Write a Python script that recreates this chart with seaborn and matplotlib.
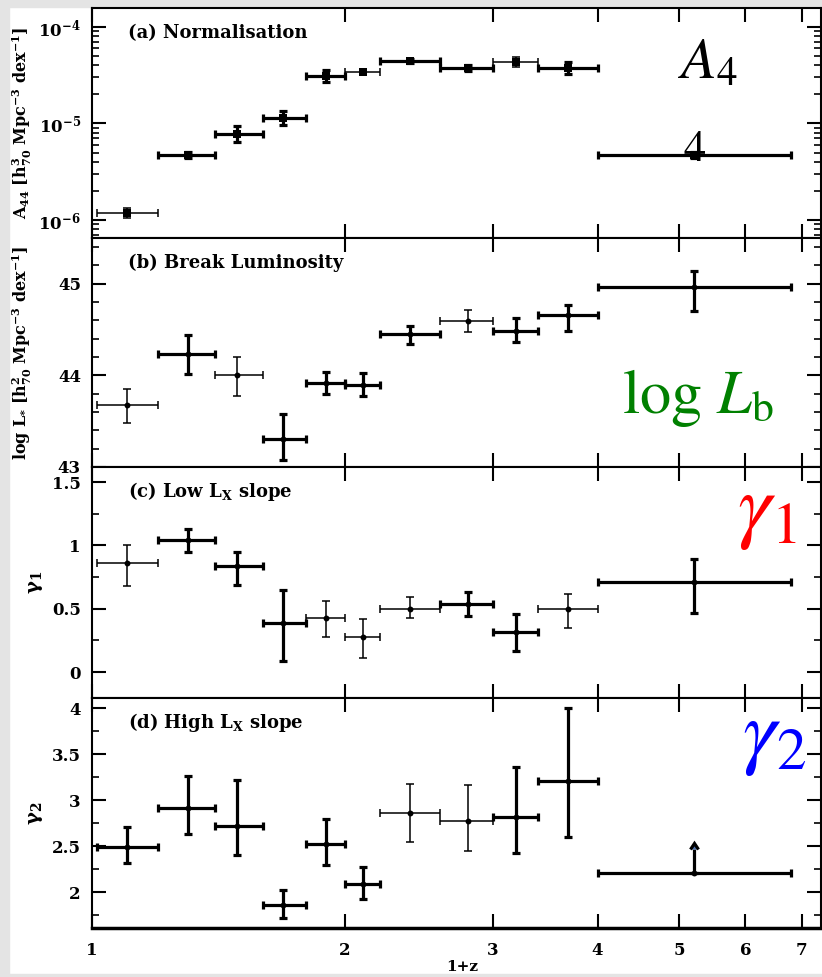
import matplotlib
matplotlib.use("Agg")
import matplotlib.pyplot as plt
import seaborn as sns
import pandas as pd
import numpy as np
from matplotlib.ticker import FixedLocator, MultipleLocator, FuncFormatter, NullFormatter, NullLocator, LogLocator
from matplotlib.patches import Rectangle

# ---- data: redshift bins (in 1+z) ----
zlo = [1.015, 1.2, 1.4, 1.6, 1.8, 2.0, 2.2, 2.6, 3.0, 3.4, 4.0]
zhi = [1.2, 1.4, 1.6, 1.8, 2.0, 2.2, 2.6, 3.0, 3.4, 4.0, 6.8]
zmid = [1.10, 1.30, 1.49, 1.69, 1.90, 2.10, 2.39, 2.80, 3.20, 3.69, 5.21]

# (a) normalisation A44 and its uncertainty in dex
a44 = [1.18e-6, 4.7e-6, 7.8e-6, 1.14e-5, 3.1e-5, 3.4e-5, 4.45e-5, 3.76e-5, 4.34e-5, 3.76e-5, 4.7e-6]
a44_err_dex = [0.05, 0.03, 0.08, 0.07, 0.06, 0.03, 0.02, 0.03, 0.05, 0.06, 0.03]

# (b) break luminosity
log_lb = [43.68, 44.23, 44.00, 43.31, 43.92, 43.90, 44.45, 44.59, 44.49, 44.66, 44.97]
log_lb_hi = [0.17, 0.21, 0.20, 0.27, 0.12, 0.13, 0.09, 0.12, 0.14, 0.11, 0.17]
log_lb_lo = [0.20, 0.21, 0.23, 0.235, 0.12, 0.13, 0.11, 0.12, 0.12, 0.18, 0.27]

# (c) faint-end slope
gamma1 = [0.86, 1.047, 0.835, 0.39, 0.425, 0.28, 0.496, 0.535, 0.32, 0.496, 0.71]
gamma1_hi = [0.14, 0.08, 0.115, 0.255, 0.135, 0.14, 0.094, 0.095, 0.14, 0.124, 0.18]
gamma1_lo = [0.18, 0.10, 0.145, 0.30, 0.15, 0.17, 0.07, 0.095, 0.155, 0.15, 0.24]

# (d) bright-end slope; last bin is a lower limit
gamma2 = [2.49, 2.91, 2.72, 1.86, 2.52, 2.09, 2.86, 2.77, 2.82, 3.21, 2.21]
gamma2_hi = [0.22, 0.35, 0.50, 0.16, 0.28, 0.18, 0.32, 0.39, 0.54, 0.79, 0.26]
gamma2_lo = [0.17, 0.28, 0.32, 0.14, 0.23, 0.17, 0.31, 0.32, 0.40, 0.61, 0.0]
gamma2_lowlim = [False] * 10 + [True]

x_ticks = [1, 2, 3, 4, 5, 6, 7]

# bar weights (heavy / light strokes)
heavy = {
    "a": [0, 1, 1, 1, 1, 0, 1, 1, 0, 1, 1],
    "b": [0, 1, 0, 1, 1, 1, 1, 0, 1, 1, 1],
    "c": [0, 1, 1, 1, 0, 0, 0, 1, 1, 0, 1],
    "d": [1, 1, 1, 1, 1, 1, 0, 0, 1, 1, 1],
}

sns.set_theme(style="ticks")
plt.rcParams["font.family"] = ["DejaVu Serif"]
plt.rcParams["axes.linewidth"] = 1.5
for key in ["text.color", "axes.labelcolor", "xtick.color", "ytick.color", "axes.edgecolor"]:
    plt.rcParams[key] = "black"

W, H = 822, 977
fig = plt.figure(figsize=(W / 100, H / 100), dpi=100, facecolor="white")

# light scan border
fig.patches.append(Rectangle((0, 0), 9 / W, 1, transform=fig.transFigure, color="#e4e4e4", zorder=-5))
fig.patches.append(Rectangle((0, 1 - 7 / H), 1, 7 / H, transform=fig.transFigure, color="#e4e4e4", zorder=-5))
fig.patches.append(Rectangle((0, 0), 1, 3 / H, transform=fig.transFigure, color="#e4e4e4", zorder=-5))

L, R = 92, 821
edges = [8, 238, 467, 698, 928]
axes = []
for i in range(4):
    t, b = edges[i], edges[i + 1]
    ax = fig.add_axes([L / W, 1 - b / H, (R - L) / W, (b - t) / H])
    ax.set_facecolor("white")
    axes.append(ax)

xmid = np.array(zmid)
xerr = np.array([xmid - np.array(zlo), np.array(zhi) - xmid])


def draw_panel(ax, y, ylo, yhi, weights, marker, ms, lolims=None):
    df = pd.DataFrame({"z1": zmid, "val": y})
    for k in range(len(zmid)):
        lw = 2.3 if weights[k] else 1.1
        if lolims is not None and lolims[k]:
            ax.errorbar([zmid[k]], [y[k]], xerr=[[xerr[0][k]], [xerr[1][k]]],
                        yerr=[[0], [yhi[k]]], lolims=[True], fmt="none",
                        ecolor="black", elinewidth=lw, capsize=3, capthick=lw)
            continue
        ax.errorbar([zmid[k]], [y[k]], xerr=[[xerr[0][k]], [xerr[1][k]]],
                    yerr=[[ylo[k]], [yhi[k]]], fmt="none", ecolor="black",
                    elinewidth=lw, capsize=3.2, capthick=lw)
    sns.scatterplot(data=df, x="z1", y="val", ax=ax, color="black", marker=marker,
                    s=ms, edgecolor="black", linewidth=0, zorder=5, legend=False)
    ax.set_xlabel("")
    ax.set_ylabel("")


# panel a (log axis)
a = np.array(a44)
e = np.array(a44_err_dex)
draw_panel(axes[0], a44, a * (1 - 10 ** (-e)), a * (10 ** e - 1), heavy["a"], "s", 30)
axes[0].set_yscale("log")
axes[0].set_ylim(10 ** -6.187, 10 ** -3.803)
axes[0].yaxis.set_major_locator(FixedLocator([1e-6, 1e-5, 1e-4]))
axes[0].yaxis.set_major_formatter(FuncFormatter(lambda v, p: r"$\mathregular{10^{%d}}$" % round(np.log10(v))))
axes[0].yaxis.set_minor_locator(LogLocator(base=10, subs=np.arange(2, 10)))
axes[0].yaxis.set_minor_formatter(NullFormatter())

draw_panel(axes[1], log_lb, log_lb_lo, log_lb_hi, heavy["b"], "o", 18)
axes[1].set_ylim(43.0, 45.5)
axes[1].yaxis.set_major_locator(FixedLocator([43, 44, 45]))
axes[1].yaxis.set_minor_locator(MultipleLocator(0.2))

draw_panel(axes[2], gamma1, gamma1_lo, gamma1_hi, heavy["c"], "o", 18)
axes[2].set_ylim(-0.205, 1.62)
axes[2].yaxis.set_major_locator(FixedLocator([0, 0.5, 1, 1.5]))
axes[2].yaxis.set_minor_locator(MultipleLocator(0.25))

draw_panel(axes[3], gamma2, gamma2_lo, gamma2_hi, heavy["d"], "o", 18, lolims=gamma2_lowlim)
axes[3].set_ylim(1.61, 4.11)
axes[3].yaxis.set_major_locator(FixedLocator([2, 2.5, 3, 3.5, 4]))
axes[3].yaxis.set_minor_locator(MultipleLocator(0.25))

fmt_g = FuncFormatter(lambda v, p: "%g" % v)
for ax in axes[1:]:
    ax.yaxis.set_major_formatter(fmt_g)

for i, ax in enumerate(axes):
    ax.set_xscale("log")
    ax.set_xlim(1, 7.38)
    ax.xaxis.set_major_locator(FixedLocator(x_ticks))
    ax.xaxis.set_minor_locator(NullLocator())
    ax.xaxis.set_major_formatter(FuncFormatter(lambda v, p: "%d" % v))
    ax.tick_params(axis="both", which="both", direction="in", top=True, right=True,
                   colors="black", labelsize=12)
    ax.tick_params(axis="both", which="major", length=10, width=1.5)
    ax.tick_params(axis="both", which="minor", length=5, width=1.2)
    ax.tick_params(axis="y", which="major", pad=8)
    ax.tick_params(axis="x", which="major", pad=10)
    if i < 3:
        ax.tick_params(axis="x", labelbottom=False)
    for sp in ax.spines.values():
        sp.set_color("black")
        sp.set_linewidth(1.5)
    for lab in ax.get_xticklabels() + ax.get_yticklabels():
        lab.set_fontweight("bold")
axes[3].spines["bottom"].set_linewidth(2.5)

titles = ["(a) Normalisation", "(b) Break Luminosity",
          r"(c) Low $\mathregular{L_X}$ slope", r"(d) High $\mathregular{L_X}$ slope"]
for ax, t in zip(axes, titles):
    ax.text(0.049, 0.892, t, transform=ax.transAxes, ha="left", va="center",
            fontsize=13, fontweight="bold", color="black")

ylabels = [r"$\mathregular{A_{44}\ [h_{70}^{3}\ Mpc^{-3}\ dex^{-1}]}$",
           r"$\mathregular{log\ L_{*}\ [h_{70}^{2}\ Mpc^{-3}\ dex^{-1}]}$",
           r"γ$_\mathregular{1}$", r"γ$_\mathregular{2}$"]
ylx = [-0.079, -0.079, -0.064, -0.064]
for ax, lab, xx in zip(axes, ylabels, ylx):
    ax.set_ylabel(lab, fontsize=11.5 if len(lab) > 20 else 14, fontweight="bold")
    ax.yaxis.set_label_coords(xx, 0.5)

axes[3].set_xlabel("1+z", fontsize=11, fontweight="bold")
axes[3].xaxis.set_label_coords(0.508, -0.138)


def px(x, y):
    return x / W, 1 - y / H


fig.text(*px(678, 78), r"$A_4$", fontsize=42, math_fontfamily="stix",
         color="black", ha="left", va="baseline")
fig.text(*px(683, 161), r"$4$", fontsize=32, math_fontfamily="stix",
         color="black", ha="left", va="baseline")
fig.text(*px(622, 413), r"$\mathrm{log}\ L_\mathrm{b}$", fontsize=45, math_fontfamily="stix",
         color="#008000", ha="left", va="baseline")
fig.text(*px(737, 532), r"$\gamma_1$", fontsize=61, math_fontfamily="stix",
         color="#ff0000", ha="left", va="baseline")
fig.text(*px(742, 758), r"$\gamma_2$", fontsize=61, math_fontfamily="stix",
         color="#0000ff", ha="left", va="baseline")

fig.savefig("out.png", dpi=100, facecolor=fig.get_facecolor())
